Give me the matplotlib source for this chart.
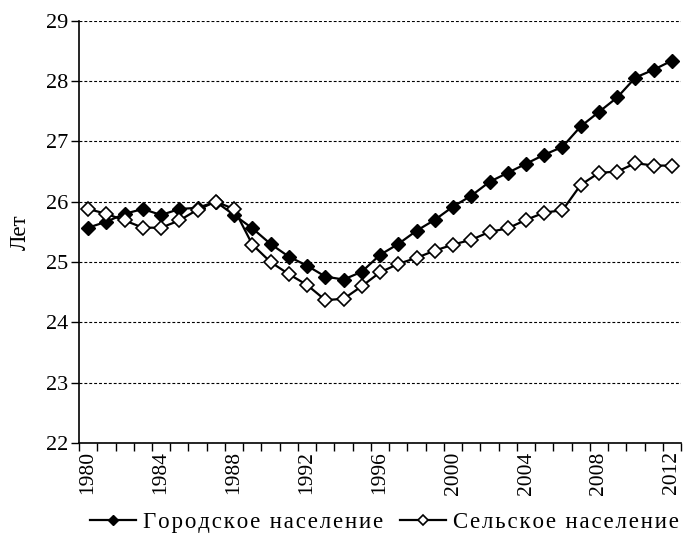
import matplotlib
matplotlib.use("Agg")
from matplotlib import pyplot as plt
from matplotlib.ticker import MultipleLocator

years = list(range(1980, 2013))

# средний возраст матери при рождении ребёнка, лет
urban = [25.57, 25.67, 25.8, 25.88, 25.78, 25.88, 25.9, 26.0, 25.78, 25.56,
         25.3, 25.09, 24.94, 24.76, 24.71, 24.84, 25.12, 25.3, 25.52, 25.7,
         25.92, 26.1, 26.33, 26.48, 26.63, 26.78, 26.91, 27.25, 27.49, 27.73,
         28.06, 28.19, 28.34]
rural = [25.88, 25.8, 25.69, 25.57, 25.57, 25.69, 25.87, 26.0, 25.88, 25.29,
         25.0, 24.8, 24.62, 24.37, 24.39, 24.6, 24.83, 24.97, 25.07, 25.19,
         25.29, 25.37, 25.5, 25.56, 25.7, 25.82, 25.86, 26.28, 26.48, 26.5,
         26.64, 26.6, 26.6]

labels = ["Городское население", "Сельское население"]

def spaced(s):
    # разрядка букв, как в оригинале
    return '\u200a'.join(s)

plt.rcParams['font.family'] = ['Liberation Serif', 'DejaVu Serif']

fig = plt.figure(figsize=(6.83, 5.34), dpi=100)
ax = fig.add_axes([0.1157, 0.1704, 0.8815, 0.7906])

ax.plot(years, urban, color='black', lw=1.6, marker='D', markersize=7.2,
        markerfacecolor='black', markeredgecolor='black', label=spaced(labels[0]), zorder=3)
ax.plot(years, rural, color='black', lw=1.6, marker='D', markersize=7.2,
        markerfacecolor='white', markeredgecolor='black', markeredgewidth=1.2,
        label=spaced(labels[1]), zorder=4)

ax.set_xlim(1979.5, 2012.5)
ax.set_ylim(22, 29)
ax.yaxis.set_major_locator(MultipleLocator(1))
ax.set_xticks(years[::4])
ax.set_xticklabels([str(y) for y in years[::4]], rotation=90)
ax.set_xticks([y - 0.5 for y in years] + [2012.5], minor=True)
ax.tick_params(axis='x', which='major', length=0, pad=6, labelsize=15.5)
ax.tick_params(axis='x', which='minor', length=6, width=1, direction='out')
ax.tick_params(axis='y', length=6, width=1, direction='out', labelsize=16, pad=2)

ax.grid(axis='y', color='black', linestyle=(0, (2.6, 1.8)), lw=0.8)
ax.set_axisbelow(True)
for s in ['top', 'right']:
    ax.spines[s].set_visible(False)
ax.spines['left'].set_linewidth(1.2)
ax.spines['bottom'].set_linewidth(1.2)

ax.set_ylabel("Лет", fontsize=16.5, labelpad=11)

fig.legend(loc='lower center', bbox_to_anchor=(0.563, 0.0), ncol=2, frameon=False,
           fontsize=16.5, handlelength=2.0, handletextpad=0.3, columnspacing=0.75,
           markerscale=0.75, borderpad=0.05, borderaxespad=0.0)

fig.savefig("out.png", dpi=100)
